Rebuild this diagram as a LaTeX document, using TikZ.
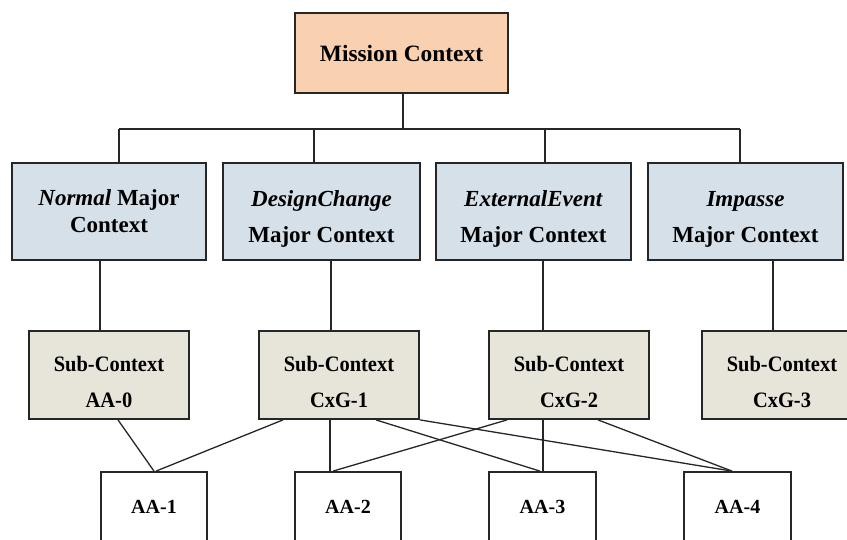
\documentclass[tikz,border=0pt]{standalone}
\usepackage{fontspec}
\setmainfont{Liberation Serif}
\newfontfamily\narrowserif[FakeStretch=0.93]{Liberation Serif}
\definecolor{linecol}{HTML}{262626}
\definecolor{missionfill}{HTML}{F9D0B0}
\definecolor{majorfill}{HTML}{D6E0E8}
\definecolor{subfill}{HTML}{E7E4DA}
\tikzset{
  box/.style={draw=linecol, line width=1.8pt, inner sep=0pt},
  majorbox/.style={box, fill=majorfill, minimum height=97pt},
  subbox/.style={box, fill=subfill, minimum width=160pt, minimum height=88pt},
  leafbox/.style={box, fill=white, minimum height=72pt},
  majortext/.style={align=center, inner sep=0pt, font=\fontsize{23}{36}\selectfont\bfseries},
  subtext/.style={align=center, inner sep=0pt, font=\narrowserif\fontsize{22}{36}\selectfont\bfseries},
  conn/.style={draw=linecol, line width=1.3pt}
}
\begin{document}
\begin{tikzpicture}[x=1pt,y=-1pt]
\useasboundingbox (0,0) rectangle (847,539);
\clip (0,0) rectangle (847,539);

% top level
\node[box, fill=missionfill, minimum width=213pt, minimum height=80pt,
      font=\fontsize{23.4}{28}\selectfont\bfseries] (mission) at (401.5,53) {Mission Context};

% major contexts
\node[majorbox, minimum width=194pt] (m1) at (109,211.5) {};
\node[majorbox, minimum width=197pt] (m2) at (321.5,211.5) {};
\node[majorbox, minimum width=195pt] (m3) at (533.5,211.5) {};
\node[majorbox, minimum width=195pt] (m4) at (745.5,211.5) {};
\node[majortext, font=\fontsize{23}{27}\selectfont\bfseries] (m1t) at (m1.center) {\textit{Normal} Major\\Context};
\node[majortext] (m2t) at ([yshift=-7.5pt]m2.center) {\textit{DesignChange}\\Major Context};
\node[majortext] (m3t) at ([yshift=-7.5pt]m3.center) {\textit{ExternalEvent}\\Major Context};
\node[majortext] (m4t) at ([yshift=-7.5pt]m4.center) {\textit{Impasse}\\Major Context};

% sub-contexts
\node[subbox] (s1) at (109,375) {};
\node[subbox] (s2) at (339,375) {};
\node[subbox] (s3) at (569,375) {};
\node[subbox] (s4) at (782,375) {};
\node[subtext] (s1t) at ([yshift=-7pt]s1.center) {Sub-Context\\AA-0};
\node[subtext] (s2t) at ([yshift=-7pt]s2.center) {Sub-Context\\CxG-1};
\node[subtext] (s3t) at ([yshift=-7pt]s3.center) {Sub-Context\\CxG-2};
\node[subtext] (s4t) at ([yshift=-7pt]s4.center) {Sub-Context\\CxG-3};

% activity boxes (run off the lower edge)
\node[leafbox, minimum width=106pt, font=\fontsize{20}{24}\selectfont\bfseries] (a1) at (154,508) {\raisebox{2pt}{AA-1}};
\node[leafbox, minimum width=106pt, font=\fontsize{20}{24}\selectfont\bfseries] (a2) at (348,508) {\raisebox{2pt}{AA-2}};
\node[leafbox, minimum width=107pt, font=\fontsize{20}{24}\selectfont\bfseries] (a3) at (542.5,508) {\raisebox{2pt}{AA-3}};
\node[leafbox, minimum width=107pt, font=\fontsize{20}{24}\selectfont\bfseries] (a4) at (737.5,508) {\raisebox{2pt}{AA-4}};

% bus below the mission context
\coordinate (busL) at (119,129);
\coordinate (busR) at (740,129);
\draw[conn] ([xshift=1.5pt]mission.south) -- ([xshift=1.5pt]mission.south |- busL);
\draw[conn] (busL) -- (busR);
\draw[conn] ([xshift=10pt]m1.north |- busL) -- ([xshift=10pt]m1.north);
\draw[conn] ([xshift=-7.5pt]m2.north |- busL) -- ([xshift=-7.5pt]m2.north);
\draw[conn] ([xshift=11.5pt]m3.north |- busL) -- ([xshift=11.5pt]m3.north);
\draw[conn] (busR) -- (busR |- m4.north);

% major -> sub
\draw[conn] ([xshift=-9pt]m1.south) -- ([xshift=-9pt]s1.north);
\draw[conn] ([xshift=9.5pt]m2.south) -- ([xshift=-8pt]s2.north);
\draw[conn] ([xshift=9.5pt]m3.south) -- ([xshift=-26pt]s3.north);
\draw[conn] ([xshift=27.5pt]m4.south) -- ([xshift=-9pt]s4.north);

% sub -> activity
\draw[conn] ([xshift=9pt]s1.south) -- (a1.north);
\draw[conn] ([xshift=-56pt]s2.south) -- ([xshift=2pt]a1.north);
\draw[conn] ([xshift=-9pt]s2.south) -- ([xshift=-18pt]a2.north);
\draw[conn] ([xshift=37pt]s2.south) -- ([xshift=-2.5pt]a3.north);
\draw[conn] (s2.south east) -- ([xshift=-5.5pt]a4.north);
\draw[conn] ([xshift=-62pt]s3.south) -- ([xshift=-15pt]a2.north);
\draw[conn] ([xshift=-26pt]s3.south) -- ([xshift=0.5pt]a3.north);
\draw[conn] ([xshift=29pt]s3.south) -- ([xshift=-5.5pt]a4.north);
\end{tikzpicture}
\end{document}
